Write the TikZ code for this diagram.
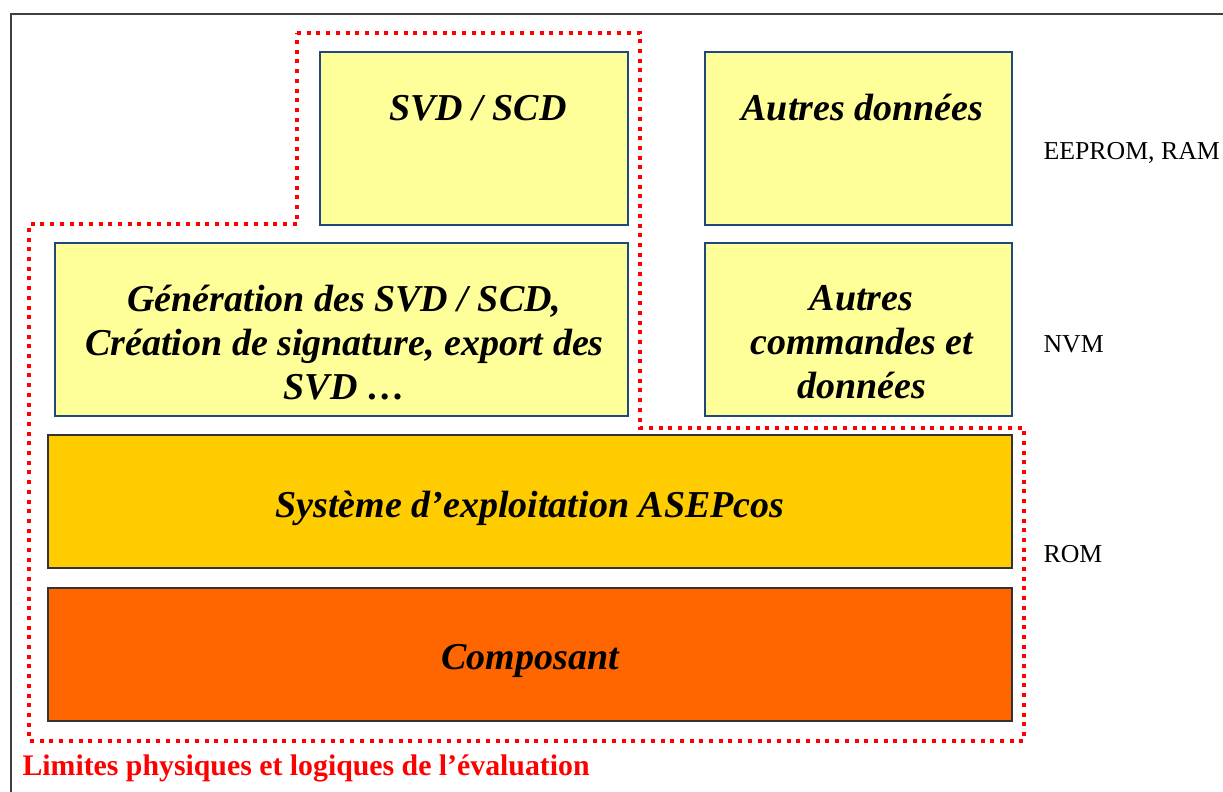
\documentclass[tikz,border=0pt]{standalone}
\usepackage{fontspec}
\setmainfont{Liberation Serif}
\usetikzlibrary{positioning}
\definecolor{boxblue}{HTML}{1F497D}
\definecolor{paleyellow}{HTML}{FFFF99}
\definecolor{gold}{HTML}{FFCC00}
\definecolor{deeporange}{HTML}{FF6600}
\tikzset{
  yellow box/.style 2 args={
    fill=paleyellow,
    draw=boxblue,
    line width=1.5pt,
    minimum width={#1},
    minimum height={#2},
    inner sep=0pt,
    outer sep=0pt,
  },
  rom box/.style={
    fill=#1,
    draw=black!80,
    line width=2pt,
    minimum width={964pt},
    minimum height={133pt},
    inner sep=0pt,
    outer sep=0pt,
  },
  box text/.style={
    font=\fontsize{38}{44}\selectfont\bfseries\itshape,
    align=center,
  },
  annotation/.style={
    font=\fontsize{25.8}{30}\selectfont,
    anchor=west,
  },
  limit line/.style={
    draw=red,
    line width=4pt,
    dash pattern=on 4pt off 5.7pt,
  },
}

\begin{document}
\begin{tikzpicture}[x=1pt,y=-1pt]
        \useasboundingbox (0,0) rectangle (1223,792);
        \draw [black!75, line width=2pt] (1223,14) -| (11,792);

        % ROM
        \node [rom box=deeporange, anchor=north west] (comp) at (48,588) {};
        \node [rom box=gold, above=20pt of comp] (os) {};
        \node [box text] (comp text) at ([yshift=-6pt]comp.center) {Composant};
        \node [box text] (os text) at ([yshift=-7pt]os.center) {Système d’exploitation ASEPcos};

        % NVM
        \node [yellow box={573pt}{173pt}, anchor=north west] (gen) at (55,243) {};
        \node [yellow box={307pt}{173pt}, right=77pt of gen] (cmd) {};
        \node [box text] (gen text) at ([xshift=3pt, yshift=-13pt]gen.center)
          {Génération des SVD / SCD,\\ Création de signature, export des\\ SVD \ldots};
        \node [box text] (cmd text) at ([xshift=3pt, yshift=-13pt]cmd.center)
          {Autres\\ commandes et\\ données};

        % EEPROM, RAM
        \node [yellow box={308pt}{173pt}, anchor=north west] (svd) at (320,52) {};
        \node [yellow box={307pt}{173pt}, right=77pt of svd] (data) {};
        \node [box text, anchor=base] (svd text) at ([xshift=4pt, yshift=-68pt]svd.north) {SVD / SCD};
        \node [box text, anchor=base] (data text) at ([xshift=4pt, yshift=-68pt]data.north) {Autres données};

        \node [annotation] (eeprom) at (1040,153) {EEPROM, RAM};
        \node [annotation] (nvm) at (1040,344) {NVM};
        \node [annotation] (rom) at (1040,554) {ROM};

        \draw [limit line] (297,33) -- (640,33) -- (640,428) -- (1024,428)
          -- (1024,741) -- (29,741) -- (29,224) -- (297,224) -- cycle;
        \node [anchor=west, text=red, font=\fontsize{29.8}{34}\selectfont\bfseries]
          (limits) at (19,768) {Limites physiques et logiques de l’évaluation};
      \end{tikzpicture}
\end{document}
